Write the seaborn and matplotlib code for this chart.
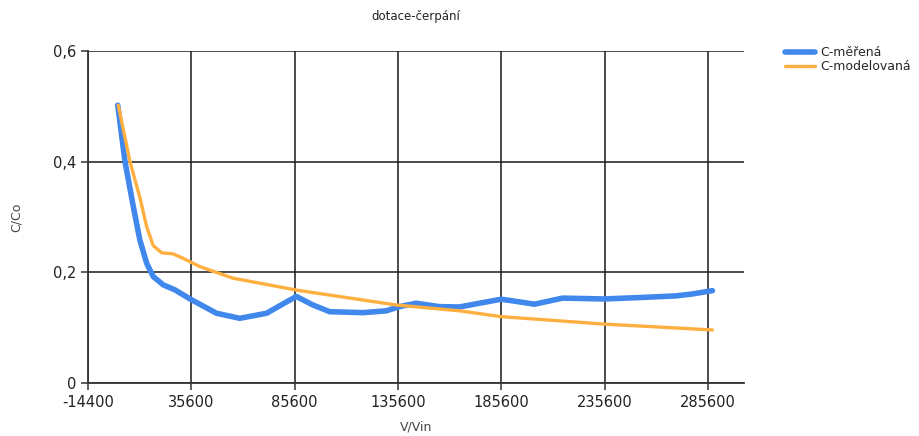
import numpy as np
import pandas as pd
import matplotlib
matplotlib.use('Agg')
import matplotlib.pyplot as plt
import seaborn as sns

# --- data ---
x_mer = [0, 3500, 7500, 10700, 14000, 17150, 22000, 27600, 35700, 47800, 59000,
         72000, 81600, 86400, 94400, 102500, 118600, 129900, 136300, 144400,
         155600, 165300, 174900, 185500, 191100, 201600, 215200, 235400, 252300,
         270000, 278000, 287700]
c_mer = [0.502, 0.40, 0.319, 0.258, 0.216, 0.192, 0.177, 0.168, 0.150, 0.1256, 0.1165,
         0.1256, 0.146, 0.156, 0.1406, 0.1285, 0.1267, 0.130, 0.1376, 0.1437,
         0.1376, 0.137, 0.1437, 0.151, 0.148, 0.142, 0.153, 0.1515, 0.154,
         0.157, 0.1605, 0.1665]

x_mod = [250, 5900, 10700, 14000, 17150, 21200, 26800, 31600, 39700, 55800,
         81600, 86400, 134700, 165300, 174900, 185500, 235400, 287700]
c_mod = [0.502, 0.40, 0.335, 0.282, 0.248, 0.235, 0.233, 0.225, 0.21, 0.189,
         0.171, 0.1675, 0.1406, 0.130, 0.125, 0.1195, 0.106, 0.0954]

x_ticks = [-14400, 35600, 85600, 135600, 185600, 235600, 285600]
y_ticks = [0, 0.2, 0.4, 0.6]
y_labels = ['0', '0,2', '0,4', '0,6']

df = pd.concat([
    pd.DataFrame({'V': x_mer, 'C': c_mer, 'serie': 'C-měřená'}),
    pd.DataFrame({'V': x_mod, 'C': c_mod, 'serie': 'C-modelovaná'}),
])

sns.set_style('white')
plt.rcParams['font.family'] = ['DejaVu Sans']

fig = plt.figure(figsize=(9.19, 4.36), dpi=100)
ax = fig.add_axes([88 / 919, 1 - 382.7 / 436, (744 - 88) / 919, (382.7 - 51) / 436])

sns.lineplot(data=df, x='V', y='C', hue='serie', size='serie',
             palette={'C-měřená': '#4188ec', 'C-modelovaná': '#ffaf3f'},
             sizes={'C-měřená': 4.0, 'C-modelovaná': 2.4},
             ax=ax, sort=False, zorder=3)
for ln in ax.lines:
    ln.set_solid_joinstyle('round')
    ln.set_solid_capstyle('round')

ax.set_xlim(-14400, 303000)
ax.set_ylim(0, 0.6)
ax.set_xticks(x_ticks)
ax.set_xticklabels([str(t) for t in x_ticks])
ax.set_yticks(y_ticks)
ax.set_yticklabels(y_labels)
ax.grid(True, color='#1a1a1a', linewidth=1.1)
ax.tick_params(axis='both', direction='out', length=5, width=1.1, color='#333333',
               labelsize=10.5, labelcolor='#222222', bottom=True, left=True)
for s in ['top', 'right']:
    ax.spines[s].set_visible(False)
for s in ['left', 'bottom']:
    ax.spines[s].set_color('#333333')
    ax.spines[s].set_linewidth(1.3)

ax.set_title('dotace-čerpání', fontsize=8.5, color='#222222', pad=22)
ax.set_xlabel('V/Vin', fontsize=9, color='#444444', labelpad=8)
ax.set_ylabel('C/Co', fontsize=9, color='#444444', labelpad=22)

leg = ax.legend(loc='upper left', bbox_to_anchor=(1.055, 1.03), frameon=False,
                fontsize=9, handlelength=2.4, handletextpad=0.4, labelspacing=0.1,
                borderaxespad=0)

fig.savefig('out.png', dpi=100)
